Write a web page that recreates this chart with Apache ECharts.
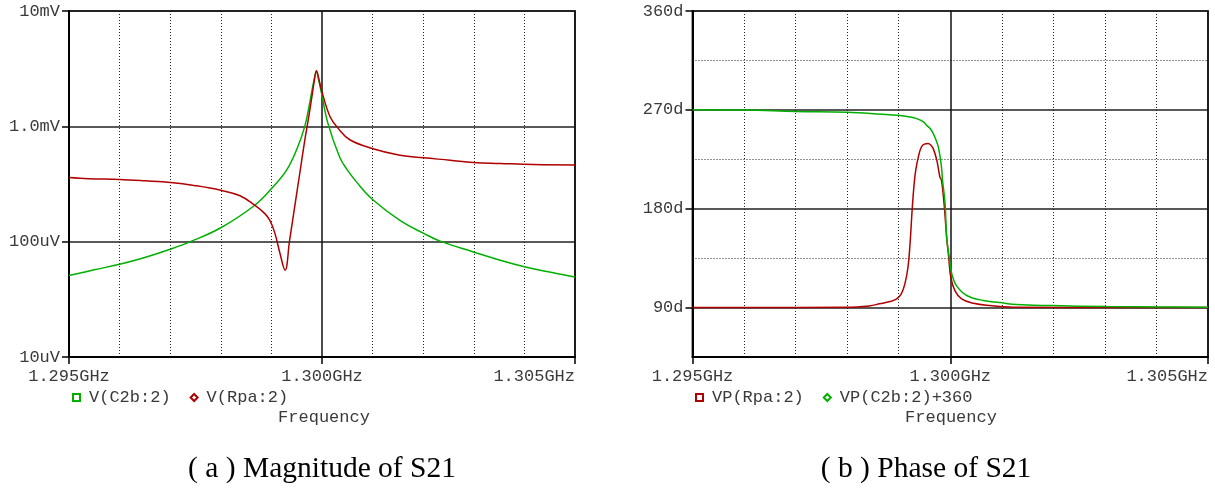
<!DOCTYPE html>
<html><head><meta charset="utf-8">
<script src="https://cdn.jsdelivr.net/npm/echarts@6/dist/echarts.min.js"></script>
<style>html,body{margin:0;padding:0;background:#fff}#c{width:1215px;height:494px}</style>
</head><body><div id="c"></div><script>
// ---- tick values / labels ----
const xTickValues = [1295, 1300, 1305];              // MHz
const xMinorValues = [1296, 1297, 1298, 1299, 1301, 1302, 1303, 1304];
const magTickLabels = {'-5': '10uV', '-4': '100uV', '-3': '1.0mV', '-2': '10mV'};
const magMinorValues = [3e-5, 3e-4, 3e-3];
const phaseTickValues = [90, 180, 270, 360];
const phaseMinorValues = [135, 225, 315];

// ---- (a) magnitude: V(C2b:2) ----
const magGreenFreq = [1295.0, 1295.5, 1296.0, 1296.5, 1297.0, 1297.4, 1298.0, 1298.67, 1299.03, 1299.3, 1299.5, 1299.66, 1299.76, 1299.83, 1299.89, 1299.94, 1299.99, 1300.12, 1300.35, 1300.49, 1300.68, 1301.0, 1301.54, 1302.01, 1302.36, 1302.99, 1303.52, 1304.02, 1304.5, 1305.0];
const magGreenVal = [50.8e-6, 57e-6, 63.7e-6, 73e-6, 85.9e-6, 100e-6, 132e-6, 207e-6, 298e-6, 417e-6, 630e-6, 1.0e-3, 1.62e-3, 2.37e-3, 2.97e-3, 2.45e-3, 1.94e-3, 1.05e-3, 540e-6, 425e-6, 330e-6, 232e-6, 153e-6, 118e-6, 100e-6, 81.5e-6, 69e-6, 60.3e-6, 54.5e-6, 49.4e-6];
// ---- (a) magnitude: V(Rpa:2) ----
const magRedFreq = [1295.0, 1295.39, 1296.0, 1296.5, 1297.01, 1297.5, 1298.0, 1298.38, 1298.67, 1298.87, 1298.97, 1299.07, 1299.17, 1299.27, 1299.36, 1299.46, 1299.56, 1299.66, 1299.73, 1299.79, 1299.86, 1299.89, 1299.94, 1299.99, 1300.16, 1300.32, 1300.55, 1300.99, 1301.54, 1302.01, 1302.53, 1302.99, 1303.52, 1304.18, 1305.0];
const magRedVal = [360e-6, 352e-6, 346e-6, 337e-6, 326e-6, 306e-6, 279e-6, 250e-6, 207e-6, 175e-6, 153e-6, 118e-6, 79e-6, 56.5e-6, 103e-6, 200e-6, 390e-6, 759e-6, 1.15e-3, 1.69e-3, 2.69e-3, 3.03e-3, 2.55e-3, 2.06e-3, 1.21e-3, 960e-6, 765e-6, 643e-6, 562e-6, 533e-6, 509e-6, 486e-6, 477e-6, 467e-6, 463e-6];

// ---- (b) phase: VP(Rpa:2) ----
const phRedFreq = [1295.0, 1297.99, 1298.43, 1298.63, 1298.83, 1298.96, 1299.05, 1299.12, 1299.18, 1299.22, 1299.26, 1299.30, 1299.33, 1299.38, 1299.44, 1299.50, 1299.57, 1299.62, 1299.67, 1299.74, 1299.80, 1299.83, 1299.88, 1299.93, 1299.97, 1300.01, 1300.09, 1300.22, 1300.45, 1300.77, 1301.22, 1305.0];
const phRedVal = [90, 90.2, 91.5, 93.4, 95.5, 97.9, 102.5, 111.6, 126.7, 148.1, 178.4, 202.8, 214.9, 227, 236.2, 238.8, 239.3, 238, 234.7, 224, 208.8, 205.8, 184.6, 154.1, 135.9, 117.6, 105.5, 97.9, 93.9, 91.8, 90.3, 90];
// ---- (b) phase: VP(C2b:2)+360 ----
const phGreenFreq = [1295.0, 1296.0, 1297.0, 1298.0, 1298.67, 1298.98, 1299.22, 1299.35, 1299.48, 1299.54, 1299.61, 1299.67, 1299.72, 1299.77, 1299.83, 1299.85, 1299.90, 1299.93, 1299.98, 1300.03, 1300.12, 1300.32, 1300.64, 1300.96, 1301.29, 1301.97, 1303.03, 1304.07, 1305.0];
const phGreenVal = [270, 269.8, 268.5, 267.8, 266, 265, 263.5, 262, 259, 256, 253, 248.4, 243, 236, 218, 206, 184.6, 154, 136, 120.7, 110, 101, 96.4, 94.6, 92.7, 91.8, 90.9, 90.6, 90.2];

const GREEN = '#00b000', RED = '#b00000';
const MONO = '"Liberation Mono", "DejaVu Sans Mono", monospace';
const SERIF = '"Liberation Serif", "DejaVu Serif", serif';
const TXT = '#3a3a3a';
const DOT = {color: '#222', width: 1, type: [1, 2]};
const zip = (a, b) => a.map((v, i) => [v, b[i]]);
const ghz = v => (v / 1000).toFixed(3) + 'GHz';

function mainX(gi) {
  return {
    gridIndex: gi, type: 'value', min: 1295, max: 1305, interval: 1, position: 'bottom', z: 3,
    axisLine: {show: true, onZero: false, lineStyle: {color: '#000', width: 2}},
    axisTick: {show: true, customValues: xTickValues, length: 7, lineStyle: {color: '#000', width: 1.5}},
    axisLabel: {customValues: xTickValues, formatter: ghz, color: TXT, fontFamily: MONO, fontSize: 17, margin: 11, alignMaxLabel: 'right'},
    splitLine: {show: true, lineStyle: {color: '#111', width: 1.5}}
  };
}
function minorX(gi) {
  return {
    gridIndex: gi, type: 'value', min: 1295, max: 1305, interval: 1, position: 'top', z: 1,
    axisLine: {show: false}, axisTick: {show: false, customValues: xMinorValues}, axisLabel: {show: false},
    splitLine: {show: true, lineStyle: DOT}
  };
}
const legendText = {fontFamily: MONO, fontSize: 17, color: TXT, padding: [0, 0, 0, 4]};
const lineSeries = (name, xi, yi, data, color, z) => ({
  name, type: 'line', xAxisIndex: xi, yAxisIndex: yi, data, showSymbol: false, smooth: 0.4, z,
  lineStyle: {color, width: 1.5}, itemStyle: {color}
});

const option = {
  animation: false,
  backgroundColor: '#fff',
  grid: [
    {left: 69, top: 11, width: 506, height: 346, show: true, borderColor: '#444', borderWidth: 2, backgroundColor: 'transparent'},
    {left: 692.5, top: 11, width: 515.5, height: 346, show: true, borderColor: '#444', borderWidth: 2, backgroundColor: 'transparent'}
  ],
  xAxis: [mainX(0), minorX(0), mainX(1), minorX(1)],
  yAxis: [
    {
      gridIndex: 0, type: 'log', logBase: 10, min: 1e-5, max: 1e-2, z: 3,
      axisLine: {show: true, onZero: false, lineStyle: {color: '#000', width: 2}},
      axisTick: {show: true, length: 7, lineStyle: {color: '#000', width: 1.5}},
      axisLabel: {formatter: v => magTickLabels[String(Math.round(Math.log10(v)))] || '', color: TXT, fontFamily: MONO, fontSize: 17, margin: 9},
      splitLine: {show: true, lineStyle: {color: '#222', width: 1.5}},
      minorTick: {show: false}, minorSplitLine: {show: false}
    },
    {
      gridIndex: 1, type: 'value', min: 45, max: 360, interval: 45, z: 3,
      axisLine: {show: true, onZero: false, lineStyle: {color: '#000', width: 2}},
      axisTick: {show: true, customValues: phaseTickValues, length: 7, lineStyle: {color: '#000', width: 1.5}},
      axisLabel: {customValues: phaseTickValues, formatter: v => v + 'd', color: TXT, fontFamily: MONO, fontSize: 17, margin: 9},
      splitLine: {show: true, lineStyle: {color: '#222', width: 1.5}}
    },
    {
      gridIndex: 1, type: 'value', min: 45, max: 360, interval: 45, position: 'right', z: 1,
      axisLine: {show: false}, axisTick: {show: false, customValues: phaseMinorValues}, axisLabel: {show: false},
      splitLine: {show: true, lineStyle: DOT}
    }
  ],
  legend: [
    {left: 72, top: 389, padding: 0, itemWidth: 7, itemHeight: 7, itemGap: 19, selectedMode: false, textStyle: legendText,
     data: [{name: 'V(C2b:2)', icon: 'emptyRect'}, {name: 'V(Rpa:2)', icon: 'emptyDiamond'}]},
    {left: 695, top: 389, padding: 0, itemWidth: 7, itemHeight: 7, itemGap: 19, selectedMode: false, textStyle: legendText,
     data: [{name: 'VP(Rpa:2)', icon: 'emptyRect'}, {name: 'VP(C2b:2)+360', icon: 'emptyDiamond'}]}
  ],
  graphic: [
    {type: 'text', x: 324, y: 417, style: {text: 'Frequency', font: '17px ' + MONO, fill: TXT, align: 'center', verticalAlign: 'middle', textAlign: 'center', textVerticalAlign: 'middle'}},
    {type: 'text', x: 951, y: 417, style: {text: 'Frequency', font: '17px ' + MONO, fill: TXT, align: 'center', verticalAlign: 'middle', textAlign: 'center', textVerticalAlign: 'middle'}},
    {type: 'text', x: 322, y: 469, style: {text: '( a ) Magnitude of S21', font: '29.5px ' + SERIF, fill: '#000', align: 'center', verticalAlign: 'middle', textAlign: 'center', textVerticalAlign: 'middle'}},
    {type: 'text', x: 926, y: 469, style: {text: '( b ) Phase of S21', font: '29.5px ' + SERIF, fill: '#000', align: 'center', verticalAlign: 'middle', textAlign: 'center', textVerticalAlign: 'middle'}}
  ],
  series: [
    {type: 'line', xAxisIndex: 0, yAxisIndex: 0, data: [], silent: true, z: 1,
     markLine: {silent: true, symbol: 'none', animation: false, label: {show: false},
       lineStyle: DOT, emphasis: {disabled: true},
       data: magMinorValues.map(v => ({yAxis: v}))}},
    lineSeries('V(C2b:2)', 0, 0, zip(magGreenFreq, magGreenVal), GREEN, 4),
    lineSeries('V(Rpa:2)', 0, 0, zip(magRedFreq, magRedVal), RED, 5),
    lineSeries('VP(Rpa:2)', 2, 1, zip(phRedFreq, phRedVal), RED, 4),
    lineSeries('VP(C2b:2)+360', 2, 1, zip(phGreenFreq, phGreenVal), GREEN, 5)
  ]
};
const chart = echarts.init(document.getElementById('c'), null, {renderer: 'canvas'});
chart.setOption(option);
</script></body></html>
